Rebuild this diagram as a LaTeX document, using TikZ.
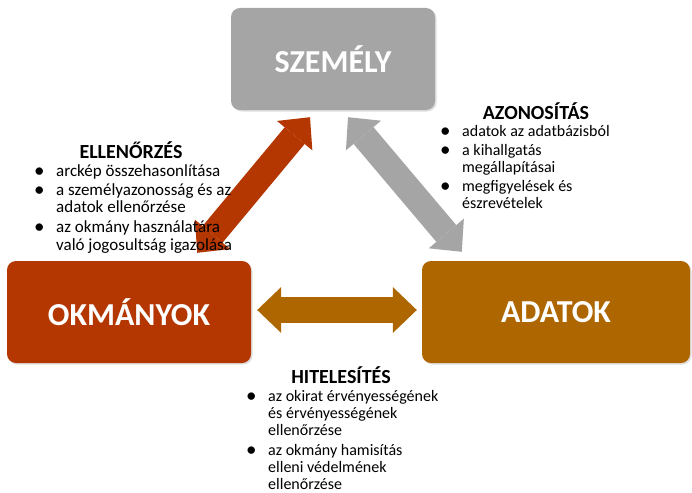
\documentclass[tikz,border=0pt]{standalone}
\usepackage{fontspec}
\setmainfont{Carlito}
\usetikzlibrary{arrows.meta,shadows}
\definecolor{butwqq}{rgb}{0.7058823529411765,0.21176470588235294,0.}
\definecolor{aewwqq}{rgb}{0.6823529411764706,0.4,0.}
\definecolor{avavav}{rgb}{0.6470588235294118,0.6470588235294118,0.6470588235294118}
\newcommand{\bul}{\raisebox{-1pt}{\fontsize{21}{17}\selectfont\textbullet}}

\begin{document}
\begin{tikzpicture}[line cap=round,line join=round,x=1pt,y=-1pt,
  box/.style={rounded corners=9pt,minimum height=102pt,inner sep=0pt,text=white,font=\fontsize{32}{38}\selectfont\bfseries,drop shadow={opacity=0.25,shadow xshift=1.5pt,shadow yshift=-1.5pt}},
  blockarrow/.style={line cap=butt,line width=26pt,{Triangle[length=24pt,width=46pt,line width=0pt]}-{Triangle[length=24pt,width=46pt,line width=0pt]}},
  title/.style={anchor=base,font=\fontsize{20}{24}\selectfont\bfseries},
  list/.style={anchor=base west,inner sep=0pt,font=\fontsize{16}{17}\selectfont}]
\useasboundingbox (0,0) rectangle (692,492);
%\draw [help lines, step=50] (0,0) grid (692,492);
\node [box,fill=avavav,minimum width=204pt] (szem) at (333,59) {SZEMÉLY};
\node [box,fill=butwqq,minimum width=244pt] (okm) at (129,312) {OKMÁNYOK};
\node [box,fill=aewwqq,minimum width=268pt] (adat) at (556,312) {ADATOK};
% arrow ends
\coordinate (rtop) at ([xshift=-23pt,yshift=-7pt]szem.south);
\coordinate (rbot) at ([xshift=-54pt,yshift=8pt]okm.north east);
\coordinate (gtop) at ([xshift=15pt,yshift=-7pt]szem.south);
\coordinate (gbot) at ([xshift=40pt,yshift=9pt]adat.north west);
\coordinate (hl) at ([xshift=6pt,yshift=2pt]okm.east);
\coordinate (hr) at ([xshift=-5pt,yshift=2pt]adat.west);
\draw [blockarrow,color=butwqq] (rtop) -- (rbot);
\draw [blockarrow,color=avavav] (gtop) -- (gbot);
\draw [blockarrow,color=aewwqq] (hl) -- (hr);
% ellenorzes
\node [title] (tell) at (131,158) {ELLENŐRZÉS};
\node [list,font=\fontsize{17}{17.5}\selectfont] (lell) at (34,176) {\begin{tabular}[t]{@{}p{22pt}@{}l@{}}
\bul & arckép összehasonlítása\\[1.5pt]
\bul & a személyazonosság és az\\
 & adatok ellenőrzése\\[2.5pt]
\bul & az okmány használatára\\
 & való jogosultság igazolása
\end{tabular}};
% azonositas
\node [title] (tazon) at (536,119) {AZONOSÍTÁS};
\node [list] (lazon) at (440,136) {\begin{tabular}[t]{@{}p{22pt}@{}l@{}}
\bul & adatok az adatbázisból\\[2pt]
\bul & a kihallgatás\\
 & megállapításai\\[2pt]
\bul & megfigyelések és\\
 & észrevételek
\end{tabular}};
% hitelesites
\node [title] (thit) at (341,383) {HITELESÍTÉS};
\node [list] (lhit) at (246,401) {\begin{tabular}[t]{@{}p{22pt}@{}l@{}}
\bul & az okirat érvényességének\\
 & és érvényességének\\
 & ellenőrzése\\[3pt]
\bul & az okmány hamisítás\\
 & elleni védelmének\\
 & ellenőrzése
\end{tabular}};
\end{tikzpicture}
\end{document}
